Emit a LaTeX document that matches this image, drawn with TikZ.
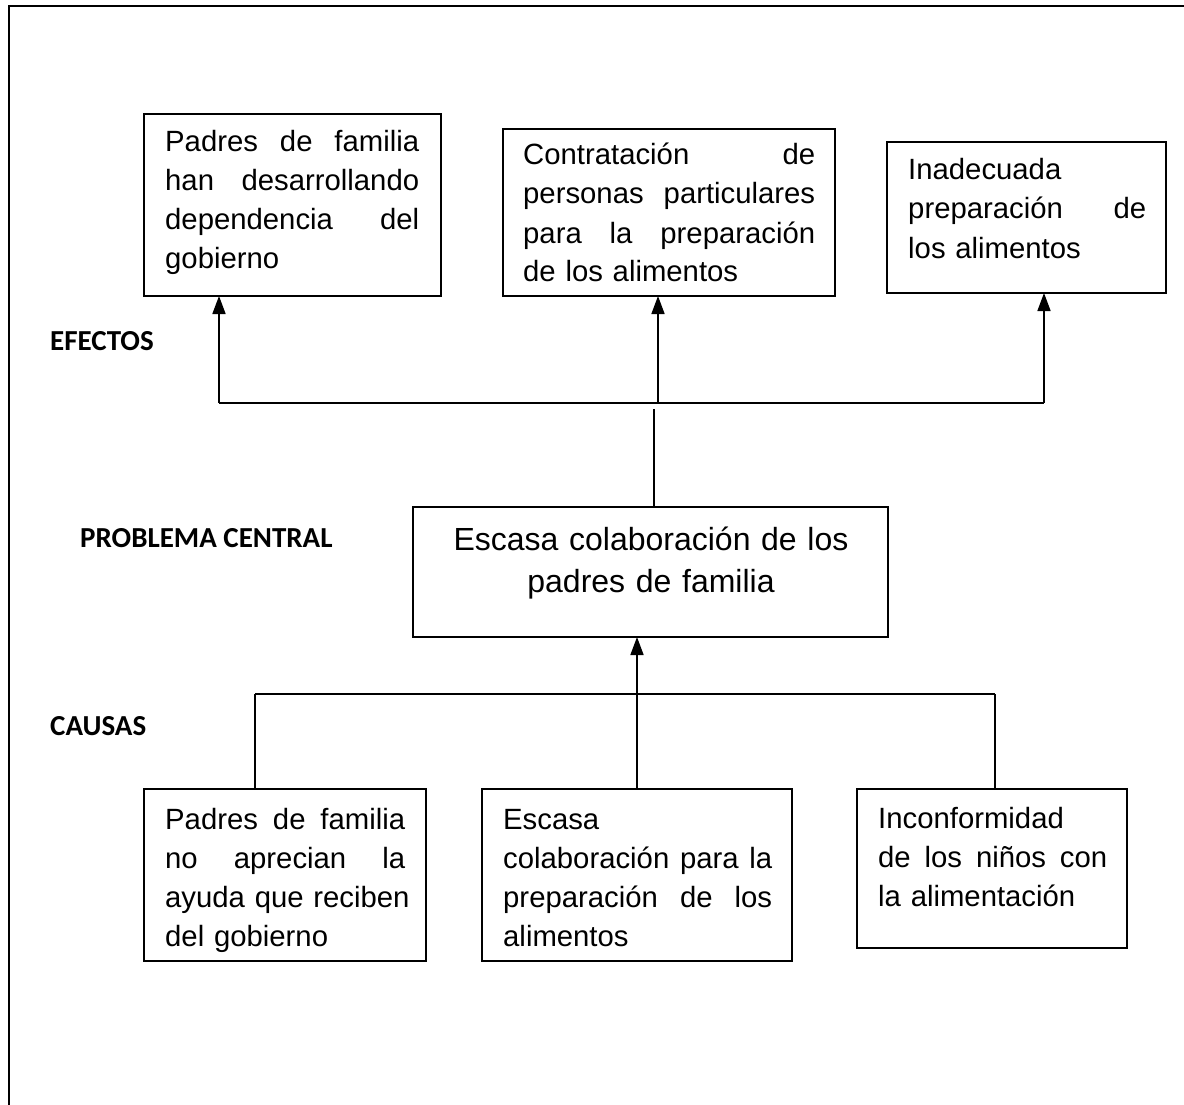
\documentclass[tikz,border=0pt]{standalone}
\usepackage{fontspec}
\setmainfont{Liberation Sans}
\newfontfamily\lblfont{Carlito}
\usetikzlibrary{arrows.meta}
\newcommand{\jl}[2]{\leavevmode\hbox to #1{#2}}
\begin{document}
\begin{tikzpicture}[x=1pt,y=-1pt,
  box/.style={draw, line width=1.4pt, inner sep=0pt, outer sep=0pt, anchor=north west},
  txt/.style={inner sep=0pt, anchor=base west, align=left, font=\fontsize{29.3}{39}\selectfont},
  lbl/.style={inner sep=0pt, anchor=base west, font=\lblfont\bfseries\fontsize{29}{35}\selectfont},
  conn/.style={line width=1.6pt},
  arr/.style={conn, -{Triangle[length=18pt,width=13pt]}}]
\useasboundingbox[fill=white] (0,0) rectangle (1184,1105);
% outer frame
\coordinate (ob1) at (8.5,1110);
\coordinate (ob2) at (8.5,6.5);
\coordinate (ob3) at (1190,6.5);
\draw[line width=2pt] (ob1) -- (ob2) -- (ob3);
% effect boxes
\node[box, minimum width=297pt, minimum height=182pt] (e1) at (144,114) {};
\node[box, minimum width=332pt, minimum height=167pt] (e2) at (503,129) {};
\node[box, minimum width=279pt, minimum height=151pt] (e3) at (887,142) {};
\node[txt, text width=254pt] (e1t) at (165,152) {\jl{254pt}{Padres \hfill de \hfill familia}\\ \jl{254pt}{han \hfill desarrollando}\\ \jl{254pt}{dependencia \hfill del}\\ gobierno};
\node[txt, text width=292pt] (e2t) at (523,165) {\jl{292pt}{Contratación \hfill de}\\ \jl{292pt}{personas \hfill particulares}\\ \jl{292pt}{para \hfill la \hfill preparación}\\ de los alimentos};
\node[txt, text width=238pt] (e3t) at (908,180) {Inadecuada\\ \jl{238pt}{preparación \hfill de}\\ los alimentos};
% central problem
\node[box, minimum width=475pt, minimum height=130pt] (cp) at (413,507) {};
\node[inner sep=0pt, anchor=base, text width=440pt, align=center, font=\fontsize{32}{42}\selectfont] (cpt) at (651,550) {Escasa colaboración de los\\ padres de familia};
% cause boxes
\node[box, minimum width=282pt, minimum height=172pt] (c1) at (144,789) {};
\node[box, minimum width=310pt, minimum height=172pt] (c2) at (482,789) {};
\node[box, minimum width=270pt, minimum height=159pt] (c3) at (857,789) {};
\node[txt, text width=240pt] (c1t) at (165,829) {\jl{240pt}{Padres \hfill de \hfill familia}\\ \jl{240pt}{no \hfill aprecian \hfill la}\\ \jl{240pt}{ayuda \hfil que \hfil reciben}\\ del gobierno};
\node[txt, text width=269pt] (c2t) at (503,829) {Escasa\\ \jl{269pt}{colaboración \hfill para \hfill la}\\ \jl{269pt}{preparación \hfill de \hfill los}\\ alimentos};
\node[txt, text width=229pt] (c3t) at (878,828) {Inconformidad\\ \jl{229pt}{de \hfill los \hfill niños \hfill con}\\ la alimentación};
% labels
\node[lbl] (lef) at (50,350) {EFECTOS};
\node[lbl] (lpc) at (80,547) {PROBLEMA CENTRAL};
\node[lbl] (lca) at (50,735) {CAUSAS};
% effect connectors
\coordinate (eb1) at (219,403);
\coordinate (eb2) at (658,403);
\coordinate (eb3) at (1044,403);
\coordinate (etop) at (654,409);
\draw[conn] (eb1) -- (eb3);
\draw[arr] (eb1) -- (eb1 |- e1.south);
\draw[arr] (eb2) -- (eb2 |- e2.south);
\draw[arr] (eb3) -- (eb3 |- e3.south);
\draw[conn] (etop |- cp.north) -- (etop);
% cause connectors
\coordinate (cb1) at (255,694);
\coordinate (cbm) at (637,694);
\coordinate (cb3) at (995,694);
\draw[conn] (cb1) -- (cb3);
\draw[arr] (cbm) -- (cbm |- cp.south);
\draw[conn] (cb1) -- (cb1 |- c1.north);
\draw[conn] (cbm) -- (cbm |- c2.north);
\draw[conn] (cb3) -- (cb3 |- c3.north);
\end{tikzpicture}
\end{document}
